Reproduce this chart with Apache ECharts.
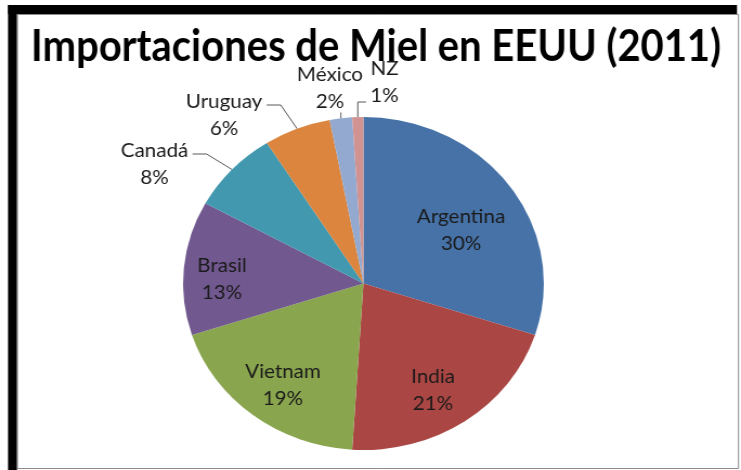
<!DOCTYPE html>
<html><head><meta charset="utf-8">
<script src="https://cdn.jsdelivr.net/npm/echarts@6/dist/echarts.min.js"></script>
<style>
html,body{margin:0;padding:0;background:#fff;overflow:hidden;width:741px;height:470px}
#chart{width:684px;height:470px;transform:scaleX(1.08333);transform-origin:0 0;}
</style>
</head><body><div id="chart"></div>
<script>
// ---- data ----
const chartTitle = 'Importaciones de Miel en EEUU (2011)';
const categories = ['Argentina', 'India', 'Vietnam', 'Brasil', 'Canadá', 'Uruguay', 'México', 'NZ'];
const values = [30, 21, 19, 13, 8, 6, 2, 1];

// ---- style ----
const colors = ['#4672A8', '#AA4744', '#89A54E', '#71598F', '#4299AF', '#DB853E', '#93A9CF', '#D19392'];
const S = 741 / 684;             // horizontal stretch of the page
const CX = 335.5, CY = 283.5, R = 166.5;
const LABEL_POS = {
  'Argentina': {dx: 90.1, dy: -53},
  'India': {dx: 64.2, dy: 106.5},
  'Vietnam': {dx: -74.3, dy: 102},
  'Brasil': {dx: -130.6, dy: -4.5},
  'Canadá': {dx: -192.9, dy: -119.5, line: 'right'},
  'Uruguay': {dx: -128.7, dy: -168.5, line: 'right'},
  'México': {dx: -30.9, dy: -195, line: 'down'},
  'NZ': {dx: 19.4, dy: -201, line: 'hook'}
};

const total = values.reduce((a, b) => a + b, 0);
function midAngle(i) {
  let cum = 0;
  for (let k = 0; k < i; k++) cum += values[k];
  return (90 - 360 * (cum + values[i] / 2) / total) * Math.PI / 180;
}
function edgePoint(i) {
  const a = midAngle(i);
  return [CX + R * Math.cos(a), CY - R * Math.sin(a)];
}

// title scaling to mimic Calibri Bold proportions
const titleFont = 'bold 44px Lato';
const mctx = document.createElement('canvas').getContext('2d');
mctx.font = titleFont;
const tw = mctx.measureText(chartTitle).width;
const titleScale = 637 / tw;

const data = categories.map((name, i) => {
  const outside = !!LABEL_POS[name].line;
  return {
    name: name,
    value: values[i],
    itemStyle: {color: colors[i]},
    label: {position: outside ? 'outside' : 'inside'},
    labelLine: {show: outside}
  };
});

const chart = echarts.init(document.getElementById('chart'));
chart.setOption({
  animation: false,
  backgroundColor: '#fff',
  graphic: [
    {type: 'rect', shape: {x: 8 / S, y: 5, width: 729 / S, height: 9}, style: {fill: '#000'}, silent: true},
    {type: 'rect', shape: {x: 8 / S, y: 5, width: 9 / S, height: 465}, style: {fill: '#000'}, silent: true},
    {type: 'rect', shape: {x: 17.5 / S, y: 14.5, width: 721 / S, height: 454}, style: {fill: 'none', stroke: '#8c8c8c', lineWidth: 1}, silent: true},
    {type: 'text', x: 31 / S, y: 47, scaleX: titleScale, scaleY: 1,
      style: {text: chartTitle, font: titleFont, fill: '#000', align: 'left', verticalAlign: 'middle'}, silent: true}
  ],
  series: [{
    type: 'pie',
    center: [CX, CY],
    radius: R,
    startAngle: 90,
    clockwise: true,
    avoidLabelOverlap: false,
    percentPrecision: 0,
    emphasis: {disabled: true},
    itemStyle: {borderWidth: 0},
    label: {
      formatter: '{b}\n{d}%',
      fontFamily: 'Lato',
      fontSize: 19,
      lineHeight: 27,
      color: '#1a1a1a',
      align: 'center'
    },
    labelLine: {lineStyle: {color: '#595959', width: 1}, length: 10, length2: 10},
    labelLayout: function (p) {
      const name = categories[p.dataIndex];
      const st = LABEL_POS[name];
      const x = CX + st.dx, y = CY + st.dy;
      const out = {x: x, y: y, align: 'center', verticalAlign: 'middle'};
      const w = p.labelRect.width;
      const e = edgePoint(p.dataIndex);
      if (st.line === 'right') {
        const ax = x + w / 2 + 4, ay = y - 10;
        out.labelLinePoints = [e, [ax + 13, ay], [ax, ay]];
      } else if (st.line === 'down') {
        out.labelLinePoints = [e, [e[0], (e[1] + y + 24) / 2], [e[0], y + 24]];
      } else if (st.line === 'hook') {
        const hy = y + 19.5;
        out.labelLinePoints = [e, [e[0], hy], [x - 17, hy]];
      }
      return out;
    },
    data: data
  }]
});
</script>
</body></html>
